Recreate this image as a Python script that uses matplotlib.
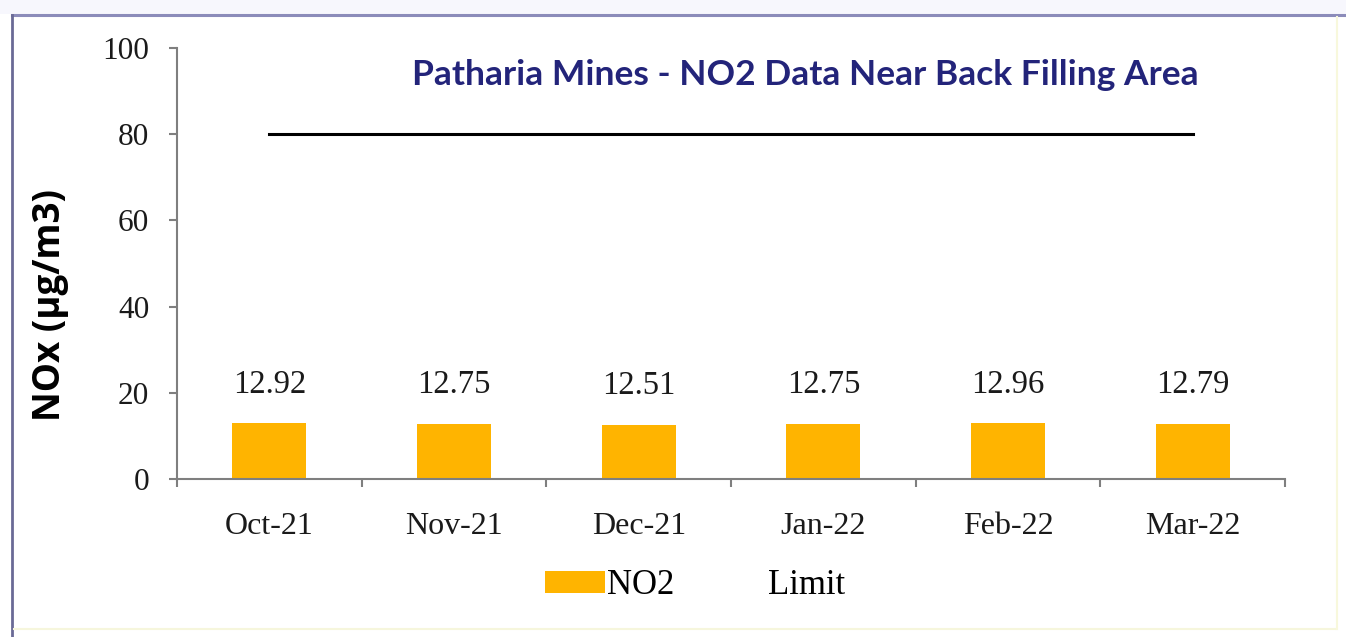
import matplotlib.pyplot as plt
from matplotlib.lines import Line2D
from matplotlib.patches import Rectangle

# chart data
months = ["Oct-21", "Nov-21", "Dec-21", "Jan-22", "Feb-22", "Mar-22"]
no2_values = [12.92, 12.75, 12.51, 12.75, 12.96, 12.79]
limit_values = [80, 80, 80, 80, 80, 80]
y_ticks = [0, 20, 40, 60, 80, 100]

W, H = 1346, 637
fig = plt.figure(figsize=(W / 100, H / 100), dpi=100)
fig.patch.set_facecolor("white")

# frame around the picture (scanned slide look)
fig.patches.append(Rectangle((0, 1 - 14 / H), 1, 14 / H, transform=fig.transFigure,
                             facecolor="#f7f7fd", edgecolor="none", zorder=0))
fig.add_artist(Line2D([12 / W, 1], [1 - 15 / H, 1 - 15 / H], transform=fig.transFigure,
                      color="#8c8cba", linewidth=2.2))
fig.add_artist(Line2D([12 / W, 12 / W], [0, 1 - 15 / H], transform=fig.transFigure,
                      color="#6a6a96", linewidth=2.0))
fig.add_artist(Line2D([14 / W, 1336 / W], [1 - 629 / H, 1 - 629 / H], transform=fig.transFigure,
                      color="#f6f6dc", linewidth=1.5))
fig.add_artist(Line2D([1337 / W, 1337 / W], [1 - 629 / H, 1 - 17 / H], transform=fig.transFigure,
                      color="#f8f8dc", linewidth=1.5))

ax = fig.add_axes([177 / W, 1 - 479 / H, (1285 - 177) / W, (479 - 48) / H])
x = list(range(len(months)))

bars = ax.bar(x, no2_values, width=0.4, color="#ffb400", label="NO2", zorder=2)
limit_line, = ax.plot(x, limit_values, color="black", linewidth=2.2, label="Limit", zorder=3)

serif = "Liberation Serif"
for xi, v in zip(x, no2_values):
    ax.annotate(f"{v:.2f}", (xi, v), xytext=(0, 17), textcoords="offset points",
                ha="center", va="bottom", fontsize=23.5, family=serif, color="#1a1a1a")

ax.set_xlim(-0.5, len(months) - 0.5)
ax.set_ylim(0, 100)
ax.set_yticks(y_ticks)
ax.set_yticklabels([str(t) for t in y_ticks])
ax.set_xticks(x)
ax.set_xticklabels(months)
ax.set_xticks([i - 0.5 for i in range(len(months) + 1)], minor=True)

for lab in ax.get_xticklabels():
    lab.set_family(serif)
    lab.set_fontsize(23)
    lab.set_color("#1a1a1a")
for lab in ax.get_yticklabels():
    lab.set_family(serif)
    lab.set_fontsize(22.5)
    lab.set_color("#1a1a1a")

ax.tick_params(axis="x", which="major", length=0, pad=24)
ax.tick_params(axis="x", which="minor", length=6, direction="out", color="#7f7f7f", width=1.5)
ax.tick_params(axis="y", length=6, direction="out", color="#7f7f7f", width=1.5, pad=14)

for side in ["top", "right"]:
    ax.spines[side].set_visible(False)
for side in ["left", "bottom"]:
    ax.spines[side].set_color("#7f7f7f")
    ax.spines[side].set_linewidth(1.5)

fig.text(805 / W, 1 - 75 / H, "Patharia Mines - NO2 Data Near Back Filling Area",
         ha="center", va="center", fontsize=25.5, fontweight="bold", family="Lato",
         color="#23247a")

fig.text(50 / W, 1 - 305 / H, "NOx (µg/m3)", rotation=90, ha="center", va="center",
         fontsize=26.5, fontweight="bold", family="Open Sans", color="black")

blank = Line2D([], [], color="none")
fig.legend([bars, blank], ["NO2", "Limit"], loc="center",
           bbox_to_anchor=(695 / W, 1 - 586 / H), ncol=2, frameon=False,
           prop={"family": serif, "size": 25}, handlelength=1.75,
           handleheight=0.6, handletextpad=0.05, columnspacing=0.9)

fig.savefig("out.png", dpi=100, facecolor=fig.get_facecolor())
